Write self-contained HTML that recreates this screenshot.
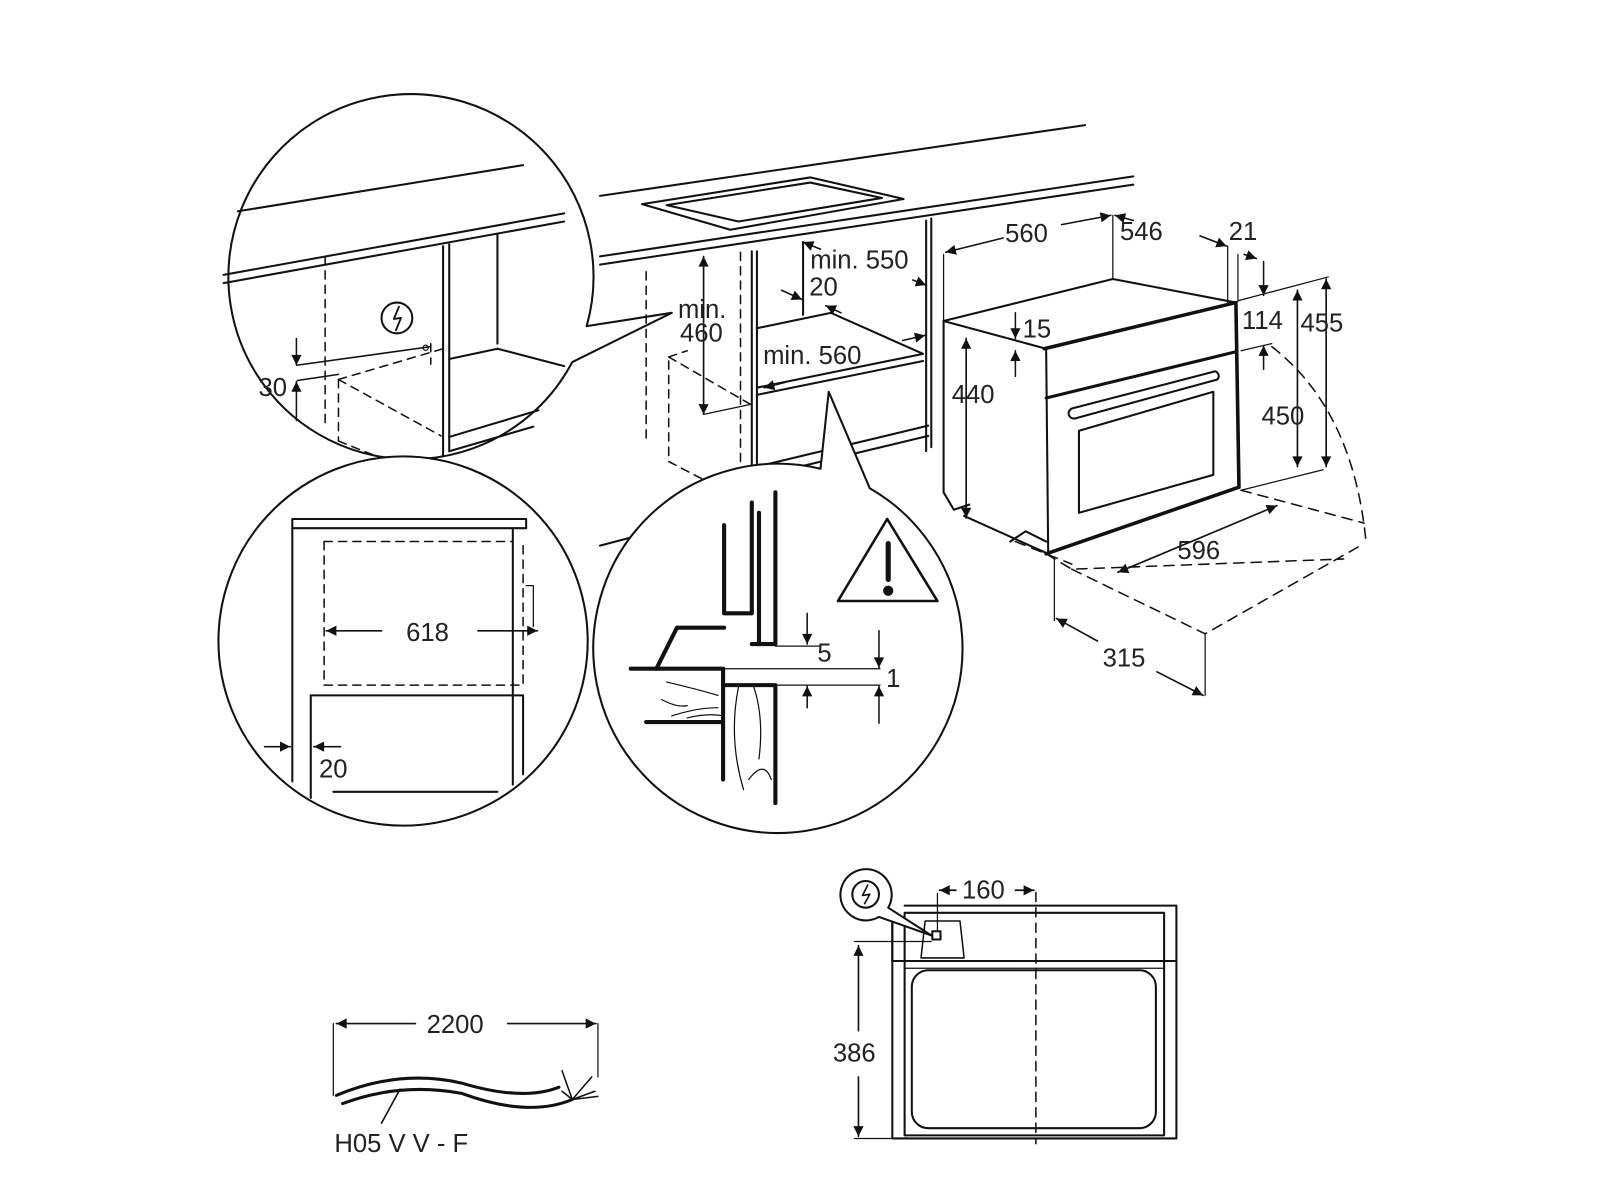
<!DOCTYPE html>
<html><head><meta charset="utf-8"><style>
html,body{margin:0;padding:0;background:#fff;width:1600px;height:1200px;overflow:hidden}
svg text{font-family:"Liberation Sans",sans-serif;fill:#222}
</style></head><body>
<svg width="1600" height="1200" viewBox="0 0 1560 1170" xmlns="http://www.w3.org/2000/svg">
<defs>
<marker id="a" viewBox="0 0 10 10" refX="10" refY="5" markerWidth="14" markerHeight="10" markerUnits="userSpaceOnUse" orient="auto-start-reverse"><path d="M0,0 L10,5 L0,10 z" fill="#111"/></marker>
</defs>
<g fill="none" stroke="#111" stroke-width="2" stroke-linecap="round" stroke-linejoin="round">

<!-- ===== Top-left circle ===== -->
<path d="M572,318 A178,178 0 1 0 558,353 L655,305 Z" fill="#fff"/>
<line x1="232" y1="206" x2="510" y2="161" />
<line x1="218" y1="268" x2="550" y2="208" />
<line x1="218" y1="276" x2="550" y2="216" />
<line x1="432" y1="240" x2="432" y2="445"/>
<line x1="438" y1="238" x2="438" y2="440"/>
<line x1="485" y1="228" x2="485" y2="335"/>
<line x1="438" y1="350" x2="485" y2="340"/>
<line x1="485" y1="340" x2="550" y2="357"/>
<line x1="438" y1="426" x2="525" y2="400"/>
<line x1="438" y1="440" x2="520" y2="416"/>
<g stroke-dasharray="8,6" stroke-width="1.5">
<line x1="317" y1="250" x2="317" y2="415"/>
<line x1="330" y1="370" x2="330" y2="430"/>
<line x1="330" y1="370" x2="432" y2="340"/>
<line x1="330" y1="370" x2="430" y2="425"/>
<line x1="330" y1="430" x2="380" y2="450"/>
<line x1="420" y1="335" x2="420" y2="355"/>
</g>
<line x1="290" y1="356" x2="420" y2="338" stroke-width="1.5"/>
<line x1="290" y1="371" x2="330" y2="365" stroke-width="1.5"/>
<line x1="289" y1="330" x2="289" y2="356" marker-end="url(#a)" stroke-width="1.5"/>
<line x1="289" y1="410" x2="289" y2="372" marker-end="url(#a)" stroke-width="1.5"/>
<circle cx="415" cy="339" r="2.5" stroke-width="1.2"/>
<circle cx="387" cy="310" r="15" stroke-width="2"/>
<path d="M389,299 L384,311 L391,310 L386,322" stroke-width="1.8"/>

<!-- ===== Main kitchen ===== -->
<line x1="585" y1="191" x2="1058" y2="122"/>
<line x1="585" y1="250" x2="1105" y2="172"/>
<line x1="585" y1="258" x2="1105" y2="180"/>
<path d="M626,199 L790,173 L881,194 L712,224 Z"/>
<path d="M650,200 L790,178 L860,193 L720,216 Z"/>
<line x1="733" y1="245" x2="733" y2="470"/>
<line x1="738" y1="245" x2="738" y2="470"/>
<line x1="783" y1="236" x2="783" y2="307"/>
<line x1="903" y1="215" x2="903" y2="440"/>
<line x1="908" y1="213" x2="908" y2="436"/>
<path d="M738,320 L810,305 L900,345 L738,378"/>
<line x1="738" y1="385" x2="900" y2="352"/>
<line x1="738" y1="465" x2="905" y2="425"/>
<line x1="738" y1="455" x2="905" y2="415"/>
<line x1="585" y1="532" x2="650" y2="515"/>
<g stroke-dasharray="8,6" stroke-width="1.5">
<line x1="630" y1="265" x2="630" y2="430"/>
<line x1="722" y1="246" x2="722" y2="460"/>
<line x1="652" y1="348" x2="733" y2="395"/>
<line x1="652" y1="348" x2="670" y2="342"/>
<line x1="652" y1="352" x2="652" y2="450"/>
<line x1="652" y1="450" x2="700" y2="475"/>
</g>
<line x1="686" y1="250" x2="686" y2="404" marker-start="url(#a)" marker-end="url(#a)" stroke-width="1.6"/>
<line x1="686" y1="404" x2="733" y2="394" stroke-width="1.2"/>
<line x1="800" y1="243" x2="783" y2="236" marker-end="url(#a)" stroke-width="1.5"/>
<line x1="890" y1="273" x2="903" y2="278" marker-end="url(#a)" stroke-width="1.5"/>
<line x1="762" y1="283" x2="782" y2="292" marker-end="url(#a)" stroke-width="1.5"/>
<line x1="820" y1="305" x2="805" y2="298" marker-end="url(#a)" stroke-width="1.5"/>
<line x1="880" y1="332" x2="902" y2="327" marker-end="url(#a)" stroke-width="1.5"/>
<line x1="765" y1="373" x2="745" y2="378" marker-end="url(#a)" stroke-width="1.5"/>

<!-- ===== Oven iso ===== -->
<path d="M920,313 L1085,272 L1205,295" />
<path d="M920,313 L920,480 L930,497 L945,492"/>
<path d="M920,313 L1020,340 L1022,540 L940,503"/>
<path d="M1018,340 L1205,295 L1208,475 L1020,540" stroke-width="3.5"/>
<line x1="1020" y1="388" x2="1205" y2="343" stroke-width="3"/>
<path d="M1046,398 L1185,362 A5,5 0 0 1 1187,370 L1048,408 A5,5 0 0 1 1046,398" stroke-width="2"/>
<path d="M1052,420 L1183,382 L1183,463 L1052,500 Z" stroke-width="2"/>
<path d="M985,528 L1000,518 L1020,528" stroke-width="2"/>
<line x1="920" y1="248" x2="920" y2="312" stroke-width="1.2"/>
<line x1="1085" y1="210" x2="1085" y2="272" stroke-width="1.2"/>
<line x1="1197" y1="240" x2="1197" y2="296" stroke-width="1.2"/>
<line x1="1207" y1="248" x2="1207" y2="294" stroke-width="1.2"/>
<line x1="978" y1="232" x2="922" y2="246" marker-end="url(#a)" stroke-width="1.5"/>
<line x1="1035" y1="219" x2="1083" y2="210" marker-end="url(#a)" stroke-width="1.5"/>
<line x1="1105" y1="215" x2="1087" y2="210" marker-end="url(#a)" stroke-width="1.5"/>
<line x1="1170" y1="230" x2="1196" y2="240" marker-end="url(#a)" stroke-width="1.5"/>
<line x1="1213" y1="248" x2="1225" y2="252" marker-end="url(#a)" stroke-width="1.5"/>
<line x1="1232" y1="255" x2="1232" y2="288" marker-end="url(#a)" stroke-width="1.5"/>
<line x1="1232" y1="360" x2="1232" y2="337" marker-end="url(#a)" stroke-width="1.5"/>
<line x1="1208" y1="293" x2="1295" y2="270" stroke-width="1.2"/>
<line x1="1210" y1="342" x2="1240" y2="335" stroke-width="1.2"/>
<line x1="1210" y1="478" x2="1290" y2="458" stroke-width="1.2"/>
<line x1="1265" y1="283" x2="1265" y2="455" marker-start="url(#a)" marker-end="url(#a)" stroke-width="1.6"/>
<line x1="1293" y1="272" x2="1293" y2="455" marker-start="url(#a)" marker-end="url(#a)" stroke-width="1.6"/>
<line x1="990" y1="305" x2="990" y2="330" marker-end="url(#a)" stroke-width="1.5"/>
<line x1="990" y1="367" x2="990" y2="342" marker-end="url(#a)" stroke-width="1.5"/>
<line x1="1000" y1="335" x2="1020" y2="340" stroke-width="1.2"/>
<line x1="942" y1="330" x2="942" y2="505" marker-start="url(#a)" marker-end="url(#a)" stroke-width="1.6"/>
<g stroke-dasharray="10,7" stroke-width="1.5">
<path d="M1240,338 Q1320,400 1332,530"/>
<path d="M1020,540 L1045,555 L1310,545"/>
<path d="M1210,478 L1330,510"/>
<path d="M1045,555 L1175,618 L1330,530"/>
<path d="M990,528 L1045,550"/>
</g>
<line x1="1090" y1="558" x2="1245" y2="493" marker-start="url(#a)" marker-end="url(#a)" stroke-width="1.6"/>
<line x1="1028" y1="545" x2="1028" y2="605" stroke-width="1.2"/>
<line x1="1175" y1="618" x2="1175" y2="678" stroke-width="1.2"/>
<line x1="1030" y1="603" x2="1070" y2="625" marker-start="url(#a)" stroke-width="1.6"/>
<line x1="1128" y1="655" x2="1173" y2="678" marker-end="url(#a)" stroke-width="1.6"/>

<!-- ===== Bottom-left circle ===== -->
<circle cx="393" cy="625" r="180" fill="#fff"/>
<rect x="285" y="506" width="228" height="9"/>
<line x1="285" y1="515" x2="285" y2="762"/>
<line x1="500" y1="515" x2="500" y2="765"/>
<line x1="303" y1="678" x2="303" y2="778"/>
<line x1="303" y1="678" x2="510" y2="678"/>
<line x1="510" y1="678" x2="510" y2="755"/>
<line x1="325" y1="772" x2="485" y2="772"/>
<g stroke-dasharray="8,6" stroke-width="1.5">
<path d="M316,528 L500,528"/><path d="M316,528 L316,668 L510,668 L510,528"/>
</g>
<path d="M513,571 L520,571 L520,611" stroke-width="1.2"/>
<line x1="372" y1="615" x2="318" y2="615" marker-end="url(#a)" stroke-width="1.6"/>
<line x1="466" y1="615" x2="524" y2="615" marker-end="url(#a)" stroke-width="1.6"/>
<line x1="258" y1="728" x2="283" y2="728" marker-end="url(#a)" stroke-width="1.6"/>
<line x1="332" y1="728" x2="306" y2="728" marker-end="url(#a)" stroke-width="1.6"/>

<!-- ===== Bottom-middle circle ===== -->
<path d="M800,457 A180,180 0 1 0 848,476 L808,382 Z" fill="#fff"/>
<path d="M706,512 L706,598 L733,598 L733,490" stroke-width="4"/>
<path d="M733,628 L756,628 L756,480" stroke-width="4"/>
<path d="M740,628 L740,500" stroke-width="4"/>
<path d="M615,652 L705,652 L705,760" stroke-width="4"/>
<path d="M640,652 L660,612 L706,612" stroke-width="4"/>
<path d="M630,704 L705,704" stroke-width="4"/>
<path d="M705,668 L756,668 L756,783" stroke-width="4"/>
<path d="M650,665 Q680,672 700,678 M645,682 Q660,690 670,688 M655,698 Q680,690 700,690 M670,700 Q690,695 705,698 M720,670 Q710,720 725,770 M740,740 Q745,700 735,670 M730,760 Q745,740 752,760" stroke-width="1.2"/>
<path d="M865,506 L914,586 L817,586 Z" stroke-width="2.5"/>
<line x1="866" y1="530" x2="866" y2="565" stroke-width="5"/>
<circle cx="866" cy="576" r="4" fill="#111"/>
<line x1="756" y1="630" x2="800" y2="630" stroke-width="1.2"/>
<line x1="787" y1="598" x2="787" y2="628" marker-end="url(#a)" stroke-width="1.5"/>
<line x1="705" y1="652" x2="858" y2="652" stroke-width="1.2"/>
<line x1="756" y1="668" x2="858" y2="668" stroke-width="1.2"/>
<line x1="787" y1="690" x2="787" y2="669" marker-end="url(#a)" stroke-width="1.5"/>
<line x1="857" y1="615" x2="857" y2="651" marker-end="url(#a)" stroke-width="1.5"/>
<line x1="857" y1="705" x2="857" y2="669" marker-end="url(#a)" stroke-width="1.5"/>

<!-- ===== Bottom front view ===== -->
<path d="M882,883 L1147,883 L1147,1110 L882,1110"/>
<path d="M870,890 L870,1110 L885,1110"/>
<path d="M870,890 L870,937 L882,937"/>
<rect x="882" y="890" width="253" height="217" stroke-width="2"/>
<line x1="882" y1="937" x2="1135" y2="937"/>
<line x1="1135" y1="937" x2="1147" y2="937"/>
<line x1="882" y1="944" x2="1135" y2="944" stroke-width="1.2"/>
<rect x="889" y="946" width="238" height="154" rx="16"/>
<path d="M898,934 L902,898 L936,898 L940,934 Z" stroke-width="1.5"/>
<rect x="909" y="908" width="8" height="8" stroke-width="2"/>
<line x1="1010" y1="870" x2="1010" y2="1115" stroke-dasharray="9,6" stroke-width="1.5"/>
<line x1="914" y1="871" x2="914" y2="908" stroke-width="1.2"/>
<line x1="932" y1="868" x2="916" y2="868" marker-end="url(#a)" stroke-width="1.6"/>
<line x1="990" y1="868" x2="1008" y2="868" marker-end="url(#a)" stroke-width="1.6"/>
<line x1="833" y1="918" x2="908" y2="918" stroke-width="1.2"/>
<line x1="833" y1="1110" x2="870" y2="1110" stroke-width="1.2"/>
<line x1="837" y1="1005" x2="837" y2="922" marker-end="url(#a)" stroke-width="1.6"/>
<line x1="837" y1="1050" x2="837" y2="1108" marker-end="url(#a)" stroke-width="1.6"/>
<path d="M866,885 A25,25 0 1 0 857,894 L908,912 Z" fill="#fff" stroke-width="2"/>
<circle cx="844" cy="872" r="13" stroke-width="2"/>
<path d="M846,863 L841,873 L848,872 L843,881" stroke-width="1.6"/>

<!-- ===== Cable ===== -->
<line x1="325" y1="998" x2="325" y2="1068" stroke-width="1.2"/>
<line x1="583" y1="998" x2="583" y2="1050" stroke-width="1.2"/>
<line x1="405" y1="998" x2="328" y2="998" marker-end="url(#a)" stroke-width="1.6"/>
<line x1="495" y1="998" x2="581" y2="998" marker-end="url(#a)" stroke-width="1.6"/>
<path d="M328,1068 Q390,1042 450,1056 Q510,1074 545,1060" stroke-width="3"/>
<path d="M334,1076 Q390,1055 450,1066 Q515,1090 558,1072" stroke-width="3"/>
<path d="M548,1064 L558,1072 M558,1072 L548,1044 M558,1072 L577,1050 M558,1072 L580,1064 M558,1072 L583,1069" stroke-width="1.5"/>
<line x1="372" y1="1095" x2="390" y2="1062" stroke-width="1.6"/>
</g>

<g font-size="25">
<text x="252" y="386">30</text>
<text x="661" y="310">min.</text>
<text x="663" y="333">460</text>
<text x="790" y="262">min. 550</text>
<text x="789" y="288">20</text>
<text x="744" y="355">min. 560</text>
<text x="980" y="236">560</text>
<text x="1092" y="234">546</text>
<text x="1198" y="234">21</text>
<text x="997" y="329">15</text>
<text x="1211" y="321">114</text>
<text x="1268" y="323">455</text>
<text x="928" y="393">440</text>
<text x="1230" y="414">450</text>
<text x="1148" y="545">596</text>
<text x="1075" y="650">315</text>
<text x="396" y="625">618</text>
<text x="311" y="758">20</text>
<text x="797" y="645">5</text>
<text x="864" y="670">1</text>
<text x="938" y="876">160</text>
<text x="812" y="1035">386</text>
<text x="416" y="1007">2200</text>
<text x="326" y="1123">H05 V V - F</text>
</g>
</svg>
</body></html>
